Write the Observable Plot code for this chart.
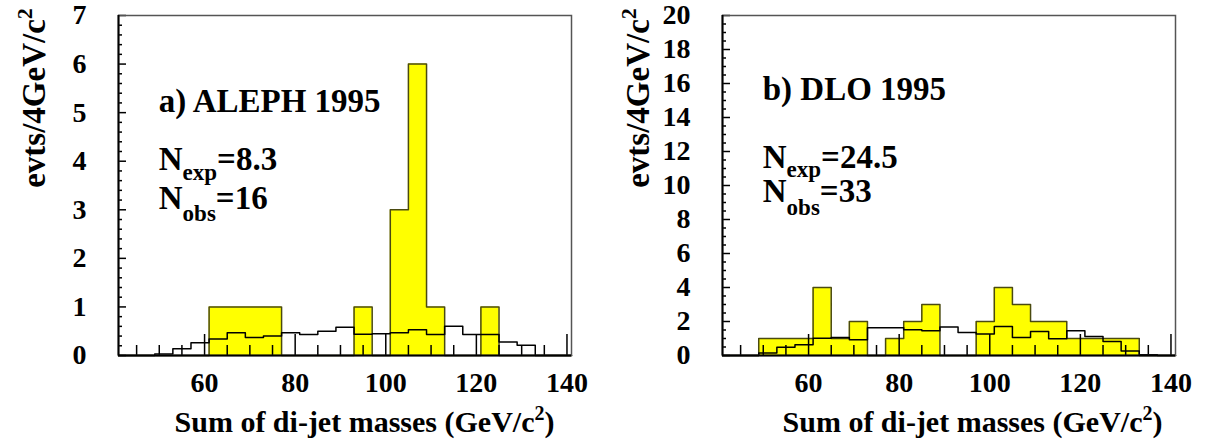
<!DOCTYPE html>
<html><head><meta charset="utf-8">
<script src="https://cdn.jsdelivr.net/npm/d3@7"></script>
<script src="https://cdn.jsdelivr.net/npm/@observablehq/plot@0.6"></script>
<style>
body{margin:0;background:#fff;}
#wrap{position:relative;width:1207px;height:448px;overflow:hidden;background:#fff;}
#wrap svg{position:absolute;top:0;}
</style></head><body><div id="wrap"></div>
<script>
// lower edges of the 4 GeV/c^2 bins; upper edge of the last bin
const binEdges = [41,45,49,53,57,61,65,69,73,77,81,85,89,93,97,101,105,109,113,117,121,125,129,133,137];
const binUpper = 141;

// a) ALEPH 1995
const alephObserved = [0,0,0,0,0,1,1,1,1,0,0,0,0,1,0,3,6,1,0,0,1,0,0,0,0];
const alephExpected = [0,0,0.03,0.14,0.26,0.34,0.47,0.37,0.40,0.47,0.43,0.50,0.58,0.44,0.45,0.47,0.53,0.43,0.60,0.43,0.43,0.28,0.21,0,0];

// b) DLO 1995
const dloObserved = [0,0,1,1,1,4,1,2,0,1,2,3,0,0,2,4,3,2,2,1,1,1,1,0,0];
const dloExpected = [0,0,0.14,0.49,0.63,1.02,1.06,0.92,1.63,1.63,1.51,1.45,1.67,1.35,1.27,1.71,1.06,1.41,0.98,1.45,1.12,0.82,0.27,0.04,0];

// tick labels
const xTickLabels = [60,80,100,120,140];
const alephYTicks = [0,1,2,3,4,5,6,7];
const dloYTicks = [0,2,4,6,8,10,12,14,16,18,20];

const xTitle = ["Sum of di-jet masses (GeV/c", "2", ")"];
const yTitle = ["evts/4GeV/c", "2"];

const SERIF = "'Liberation Serif', 'Times New Roman', Times, serif";

function stepPoints(values) {
  const pts = binEdges.map((e, i) => ({x: e, y: values[i]}));
  pts.push({x: binUpper, y: values[values.length - 1]});
  return pts;
}

// rich text (sub/superscripts) placed through the plot's scales
function annotations(items) {
  return (index, scales) => {
    const g = d3.create("svg:g")
      .attr("font-family", SERIF).attr("font-weight", "bold").attr("fill", "black")
      .attr("text-anchor", "start");
    for (const it of items) {
      const t = g.append("text")
        .attr("x", scales.x(it.x)).attr("y", scales.y(it.y))
        .attr("font-size", 33);
      for (const p of it.parts) {
        const s = t.append("tspan").text(p.text);
        if (p.size) s.attr("font-size", p.size);
        if (p.dy) s.attr("dy", p.dy);
      }
    }
    return g.node();
  };
}

// axis titles with a real superscript
function axisTitles(cfg) {
  return (index, scales, values, dims) => {
    const {width, height, marginLeft, marginRight, marginTop, marginBottom} = dims;
    const g = d3.create("svg:g")
      .attr("font-family", SERIF).attr("font-weight", "bold").attr("fill", "black")
      .attr("text-anchor", "middle");
    const cx = (marginLeft + width - marginRight) / 2 + cfg.xTitleDx;
    const bx = g.append("text").attr("x", cx).attr("y", height - marginBottom + 77).attr("font-size", 30);
    bx.append("tspan").text(xTitle[0]);
    bx.append("tspan").text(xTitle[1]).attr("font-size", 20).attr("dy", -12);
    bx.append("tspan").text(xTitle[2]).attr("font-size", 30).attr("dy", 12);
    const cy = marginTop + 98 - 15;
    const ly = g.append("text")
      .attr("transform", `translate(${marginLeft - 73},${cy}) rotate(-90)`)
      .attr("font-size", 33);
    ly.append("tspan").text(yTitle[0]);
    ly.append("tspan").text(yTitle[1]).attr("font-size", 22).attr("dy", -13);
    return g.node();
  };
}

function nLine(x, y, sub, value, subDy) {
  return {x, y, parts: [
    {text: "N"},
    {text: sub, size: 23, dy: subDy},
    {text: value, size: 33, dy: -subDy}
  ]};
}

function panel(cfg) {
  const H = 448, mt = 15, mb = 93;
  const frameH = H - mt - mb;
  const frameW = cfg.width - cfg.marginLeft - cfg.marginRight;
  const xMinor = d3.range(45, 140, 5).filter(v => v % 20 !== 0);
  const yMinor = d3.range(0, cfg.yMax + 1e-9, cfg.yMinorStep).filter(v => !cfg.yTicks.some(t => Math.abs(t - v) < 1e-6));
  const obs = stepPoints(cfg.obs);
  const exp = stepPoints(cfg.exp);
  const tick = {stroke: "black", strokeWidth: 1.5};
  return Plot.plot({
    width: cfg.width, height: H,
    marginLeft: cfg.marginLeft, marginRight: cfg.marginRight, marginTop: mt, marginBottom: mb,
    x: {domain: [binEdges[0], binUpper]},
    y: {domain: [0, cfg.yMax]},
    style: {fontFamily: SERIF, fontWeight: "bold", background: "transparent", color: "black", overflow: "visible"},
    marks: [
      Plot.areaY(obs, {x: "x", y: "y", curve: "step-after", fill: "#ffff00"}),
      Plot.line(obs, {x: "x", y: "y", curve: "step-after", stroke: "#4a4a10", strokeWidth: 1.5}),
      Plot.line(exp, {x: "x", y: "y", curve: "step-after", stroke: "black", strokeWidth: 1.5}),
      Plot.ruleX(xMinor, {x: d => d, insetTop: frameH - 10, ...tick}),
      Plot.ruleX(xTickLabels, {x: d => d, insetTop: frameH - 21, ...tick}),
      Plot.ruleY(yMinor, {y: d => d, insetRight: frameW - 4, ...tick}),
      Plot.ruleY(cfg.yTicks, {y: d => d, insetRight: frameW - 8, ...tick}),
      Plot.frame({stroke: "#555", strokeWidth: 1.5}),
      Plot.ruleX([binEdges[0]], {x: d => d, stroke: "black", strokeWidth: 2}),
      Plot.ruleY([0], {y: d => d, stroke: "black", strokeWidth: 2}),
      Plot.axisX({ticks: xTickLabels, tickFormat: d => String(d), tickSize: 0, tickPadding: 17, fontSize: 28, fontWeight: "bold", label: null}),
      Plot.axisY({ticks: cfg.yTicks, tickFormat: d => String(d), tickSize: 0, tickPadding: 32, fontSize: 28, fontWeight: "bold", label: null}),
      axisTitles(cfg),
      annotations(cfg.notes)
    ]
  });
}

const left = panel({
  width: 600, marginLeft: 118, marginRight: 29,
  obs: alephObserved, exp: alephExpected,
  yMax: 7, yTicks: alephYTicks, yMinorStep: 0.2, xTitleDx: 20,
  notes: [
    {x: 50, y: 5.0, parts: [{text: "a) ALEPH 1995"}]},
    nLine(50, 3.8, "exp", "=8.3", 10),
    nLine(50, 3.0, "obs", "=16", 12)
  ]
});
const right = panel({
  width: 607, marginLeft: 122, marginRight: 32,
  obs: dloObserved, exp: dloExpected,
  yMax: 20, yTicks: dloYTicks, yMinorStep: 0.5, xTitleDx: 24,
  notes: [
    {x: 50, y: 15, parts: [{text: "b) DLO 1995"}]},
    nLine(50, 11, "exp", "=24.5", 9),
    nLine(50, 9, "obs", "=33", 13)
  ]
});
left.style.left = "0px";
right.style.left = "600px";
const wrap = document.getElementById("wrap");
wrap.appendChild(left);
wrap.appendChild(right);
</script></body></html>
